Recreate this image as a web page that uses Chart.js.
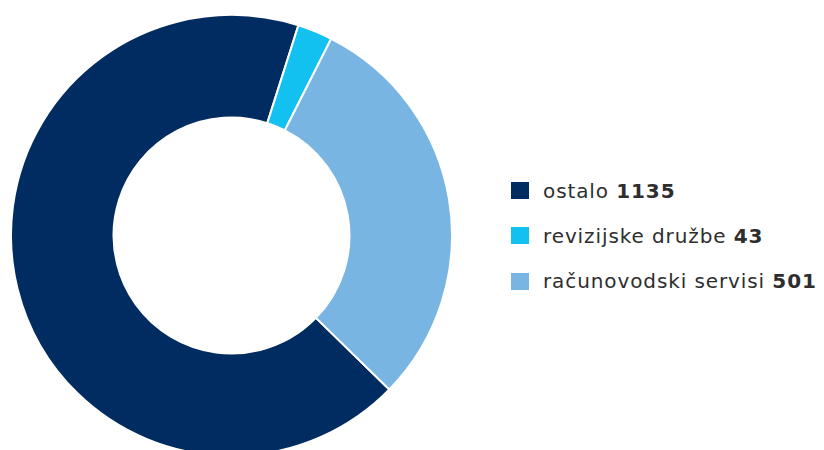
<!DOCTYPE html>
<html>
<head>
<meta charset="utf-8">
<script src="https://cdn.jsdelivr.net/npm/chart.js@4"></script>
<style>
  html, body { margin: 0; padding: 0; width: 824px; height: 450px; overflow: hidden; background: #fff; }
  .chart-box { position: absolute; left: 10px; top: 14px; width: 443px; height: 443px; }
  .legend { position: absolute; left: 511px; top: 168px; font-family: 'DejaVu Sans', sans-serif; font-size: 20px; color: #2e2e2e; letter-spacing: 0.9px; word-spacing: 0px; }
  .legend-item { display: flex; align-items: center; height: 45.3px; white-space: nowrap; }
  .legend-item .swatch { width: 18px; height: 17px; margin-right: 14px; flex: none; }
  .legend-item b { font-weight: 700; }
</style>
</head>
<body>
<div class="chart-box"><canvas id="donut"></canvas></div>
<div class="legend" id="legend"></div>
<script>
const labels = ['ostalo', 'revizijske družbe', 'računovodski servisi']
const values = [1135, 43, 501]
const colors = ['#012c61', '#13c1f0', '#79b5e3']

const ctx = document.getElementById('donut').getContext('2d')

const myChart = new Chart(ctx, {
  type: 'doughnut',
  data: {
    labels: labels,
    datasets: [{
      data: values,
      backgroundColor: colors,
      borderColor: '#ffffff',
      borderWidth: 2
    }]
  },
  options: {
    responsive: true,
    maintainAspectRatio: false,
    animation: false,
    rotation: 134.3,
    cutout: '53.5%',
    layout: { padding: 0 },
    plugins: {
      legend: { display: false },
      tooltip: { enabled: false }
    }
  }
})

// legend with bold numbers, built from the same arrays
const legendEl = document.getElementById('legend')
labels.forEach((label, i) => {
  const item = document.createElement('div')
  item.className = 'legend-item'
  const sw = document.createElement('span')
  sw.className = 'swatch'
  sw.style.background = colors[i]
  const txt = document.createElement('span')
  txt.innerHTML = label + ' <b>' + values[i] + '</b>'
  item.appendChild(sw)
  item.appendChild(txt)
  legendEl.appendChild(item)
})
</script>
</body>
</html>
